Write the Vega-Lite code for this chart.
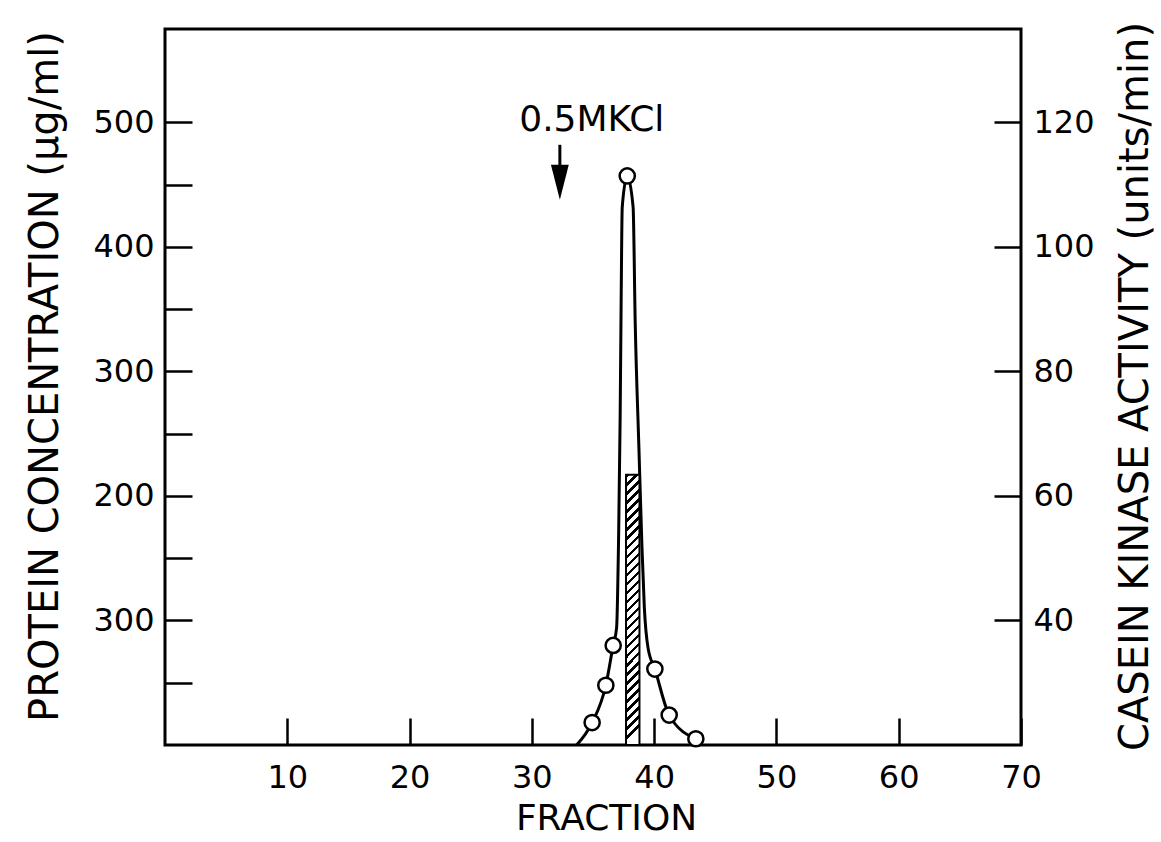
{
  "$schema": "https://vega.github.io/schema/vega-lite/v6.json",
  "width": 856,
  "height": 716,
  "autosize": {"type": "none"},
  "padding": {"left": 165, "top": 29, "right": 140, "bottom": 97},
  "background": "white",
  "config": {
    "view": {"stroke": "black", "strokeWidth": 3},
    "axis": {
      "domain": false, "grid": false,
      "labelFont": "DejaVu Sans", "labelFontSize": 32, "labelColor": "black",
      "labelFlush": false, "labelOverlap": false,
      "tickColor": "black", "tickWidth": 2.5, "tickSize": -27,
      "titleFont": "DejaVu Sans", "titleFontWeight": "normal", "titleColor": "black"
    }
  },
  "datasets": {
    "curve": [
      {"fraction": 33.66, "protein": 0},
      {"fraction": 34.93, "protein": 18},
      {"fraction": 36.05, "protein": 48},
      {"fraction": 36.65, "protein": 80},
      {"fraction": 36.93, "protein": 94},
      {"fraction": 37.10, "protein": 171},
      {"fraction": 37.22, "protein": 263},
      {"fraction": 37.30, "protein": 355},
      {"fraction": 37.39, "protein": 432},
      {"fraction": 37.80, "protein": 457},
      {"fraction": 38.28, "protein": 432},
      {"fraction": 38.45, "protein": 340},
      {"fraction": 38.75, "protein": 240},
      {"fraction": 39.0, "protein": 160},
      {"fraction": 39.2, "protein": 110},
      {"fraction": 39.5, "protein": 78},
      {"fraction": 40.06, "protein": 61},
      {"fraction": 41.23, "protein": 24},
      {"fraction": 43.41, "protein": 5}
    ],
    "points": [
      {"fraction": 34.93, "protein": 18},
      {"fraction": 36.05, "protein": 48},
      {"fraction": 36.65, "protein": 80},
      {"fraction": 37.80, "protein": 457},
      {"fraction": 40.06, "protein": 61},
      {"fraction": 41.23, "protein": 24},
      {"fraction": 43.41, "protein": 5}
    ],
    "activity": [
      {"from": 37.7, "to": 38.8, "activity": 63.4}
    ],
    "label": [
      {"fraction": 34.9, "protein": 502, "text": "0.5MKCl"}
    ],
    "shaft": [
      {"fraction": 32.29, "protein": 482, "bottom": 456}
    ],
    "head": [
      {"fraction": 32.29, "protein": 452}
    ]
  },
  "layer": [
    {
      "layer": [
        {
          "data": {"name": "curve"},
          "mark": {"type": "line", "color": "black", "strokeWidth": 3, "interpolate": "monotone"},
          "encoding": {
            "x": {"field": "fraction", "type": "quantitative", "scale": {"domain": [0, 70], "nice": false, "zero": false},
                  "axis": {"values": [10, 20, 30, 40, 50, 60, 70], "labelPadding": 44, "title": "FRACTION", "titleFontSize": 36,
                           "titleX": 441, "titleY": 73, "titleBaseline": "middle", "titleAlign": "center"}},
            "y": {"field": "protein", "type": "quantitative", "scale": {"domain": [0, 575], "nice": false, "zero": false},
                  "axis": {"orient": "left", "values": [50, 100, 150, 200, 250, 300, 350, 400, 450, 500], "labelPadding": 38,
                           "labelExpr": "datum.value % 100 == 0 ? (datum.value == 100 ? '300' : datum.label) : ''",
                           "title": "PROTEIN CONCENTRATION (µg/ml)", "titleFontSize": 40, "titleAngle": 270,
                           "titleX": -120, "titleY": 347, "titleBaseline": "middle", "titleAlign": "center"}}
          }
        },
        {
          "data": {"name": "shaft"},
          "mark": {"type": "rule", "color": "black", "strokeWidth": 3},
          "encoding": {
            "x": {"field": "fraction", "type": "quantitative"},
            "y": {"field": "protein", "type": "quantitative"},
            "y2": {"field": "bottom"}
          }
        },
        {
          "data": {"name": "head"},
          "mark": {"type": "point", "shape": "M-0.51,-1L0.51,-1L0,1Z", "filled": true, "color": "black", "opacity": 1, "size": 1225},
          "encoding": {
            "x": {"field": "fraction", "type": "quantitative"},
            "y": {"field": "protein", "type": "quantitative"}
          }
        },
        {
          "data": {"name": "label"},
          "mark": {"type": "text", "font": "DejaVu Sans", "fontSize": 36, "color": "black", "align": "center", "baseline": "middle"},
          "encoding": {
            "x": {"field": "fraction", "type": "quantitative"},
            "y": {"field": "protein", "type": "quantitative"},
            "text": {"field": "text"}
          }
        }
      ]
    },
    {
      "layer": [
        {
          "data": {"name": "activity"},
          "mark": {
            "type": "rect", "stroke": "black", "strokeWidth": 2,
            "fill": {
              "gradient": "linear", "x1": 0, "y1": 0, "x2": 0.05, "y2": 1,
              "stops": [
                {"offset": 0, "color": "black"}, {"offset": 0.0133, "color": "black"}, {"offset": 0.0133, "color": "white"}, {"offset": 0.0333, "color": "white"},
                {"offset": 0.0333, "color": "black"}, {"offset": 0.0467, "color": "black"}, {"offset": 0.0467, "color": "white"}, {"offset": 0.0667, "color": "white"},
                {"offset": 0.0667, "color": "black"}, {"offset": 0.08, "color": "black"}, {"offset": 0.08, "color": "white"}, {"offset": 0.1, "color": "white"},
                {"offset": 0.1, "color": "black"}, {"offset": 0.1133, "color": "black"}, {"offset": 0.1133, "color": "white"}, {"offset": 0.1333, "color": "white"},
                {"offset": 0.1333, "color": "black"}, {"offset": 0.1467, "color": "black"}, {"offset": 0.1467, "color": "white"}, {"offset": 0.1667, "color": "white"},
                {"offset": 0.1667, "color": "black"}, {"offset": 0.18, "color": "black"}, {"offset": 0.18, "color": "white"}, {"offset": 0.2, "color": "white"},
                {"offset": 0.2, "color": "black"}, {"offset": 0.2133, "color": "black"}, {"offset": 0.2133, "color": "white"}, {"offset": 0.2333, "color": "white"},
                {"offset": 0.2333, "color": "black"}, {"offset": 0.2467, "color": "black"}, {"offset": 0.2467, "color": "white"}, {"offset": 0.2667, "color": "white"},
                {"offset": 0.2667, "color": "black"}, {"offset": 0.28, "color": "black"}, {"offset": 0.28, "color": "white"}, {"offset": 0.3, "color": "white"},
                {"offset": 0.3, "color": "black"}, {"offset": 0.3133, "color": "black"}, {"offset": 0.3133, "color": "white"}, {"offset": 0.3333, "color": "white"},
                {"offset": 0.3333, "color": "black"}, {"offset": 0.3467, "color": "black"}, {"offset": 0.3467, "color": "white"}, {"offset": 0.3667, "color": "white"},
                {"offset": 0.3667, "color": "black"}, {"offset": 0.38, "color": "black"}, {"offset": 0.38, "color": "white"}, {"offset": 0.4, "color": "white"},
                {"offset": 0.4, "color": "black"}, {"offset": 0.4133, "color": "black"}, {"offset": 0.4133, "color": "white"}, {"offset": 0.4333, "color": "white"},
                {"offset": 0.4333, "color": "black"}, {"offset": 0.4467, "color": "black"}, {"offset": 0.4467, "color": "white"}, {"offset": 0.4667, "color": "white"},
                {"offset": 0.4667, "color": "black"}, {"offset": 0.48, "color": "black"}, {"offset": 0.48, "color": "white"}, {"offset": 0.5, "color": "white"},
                {"offset": 0.5, "color": "black"}, {"offset": 0.5133, "color": "black"}, {"offset": 0.5133, "color": "white"}, {"offset": 0.5333, "color": "white"},
                {"offset": 0.5333, "color": "black"}, {"offset": 0.5467, "color": "black"}, {"offset": 0.5467, "color": "white"}, {"offset": 0.5667, "color": "white"},
                {"offset": 0.5667, "color": "black"}, {"offset": 0.58, "color": "black"}, {"offset": 0.58, "color": "white"}, {"offset": 0.6, "color": "white"},
                {"offset": 0.6, "color": "black"}, {"offset": 0.6133, "color": "black"}, {"offset": 0.6133, "color": "white"}, {"offset": 0.6333, "color": "white"},
                {"offset": 0.6333, "color": "black"}, {"offset": 0.6467, "color": "black"}, {"offset": 0.6467, "color": "white"}, {"offset": 0.6667, "color": "white"},
                {"offset": 0.6667, "color": "black"}, {"offset": 0.68, "color": "black"}, {"offset": 0.68, "color": "white"}, {"offset": 0.7, "color": "white"},
                {"offset": 0.7, "color": "black"}, {"offset": 0.7133, "color": "black"}, {"offset": 0.7133, "color": "white"}, {"offset": 0.7333, "color": "white"},
                {"offset": 0.7333, "color": "black"}, {"offset": 0.7467, "color": "black"}, {"offset": 0.7467, "color": "white"}, {"offset": 0.7667, "color": "white"},
                {"offset": 0.7667, "color": "black"}, {"offset": 0.78, "color": "black"}, {"offset": 0.78, "color": "white"}, {"offset": 0.8, "color": "white"},
                {"offset": 0.8, "color": "black"}, {"offset": 0.8133, "color": "black"}, {"offset": 0.8133, "color": "white"}, {"offset": 0.8333, "color": "white"},
                {"offset": 0.8333, "color": "black"}, {"offset": 0.8467, "color": "black"}, {"offset": 0.8467, "color": "white"}, {"offset": 0.8667, "color": "white"},
                {"offset": 0.8667, "color": "black"}, {"offset": 0.88, "color": "black"}, {"offset": 0.88, "color": "white"}, {"offset": 0.9, "color": "white"},
                {"offset": 0.9, "color": "black"}, {"offset": 0.9133, "color": "black"}, {"offset": 0.9133, "color": "white"}, {"offset": 0.9333, "color": "white"},
                {"offset": 0.9333, "color": "black"}, {"offset": 0.9467, "color": "black"}, {"offset": 0.9467, "color": "white"}, {"offset": 0.9667, "color": "white"},
                {"offset": 0.9667, "color": "black"}, {"offset": 0.98, "color": "black"}, {"offset": 0.98, "color": "white"}, {"offset": 1, "color": "white"}
              ]
            }
          },
          "encoding": {
            "x": {"field": "from", "type": "quantitative"},
            "x2": {"field": "to"},
            "y": {"field": "activity", "type": "quantitative", "scale": {"domain": [20, 135], "nice": false, "zero": false},
                  "axis": {"orient": "right", "values": [40, 60, 80, 100, 120], "labelPadding": 39,
                           "title": "CASEIN KINASE ACTIVITY (units/min)", "titleFontSize": 40, "titleAngle": 270,
                           "titleX": 114, "titleY": 357, "titleBaseline": "middle", "titleAlign": "center"}},
            "y2": {"datum": 20}
          }
        }
      ]
    },
    {
      "layer": [
        {
          "data": {"name": "curve"},
          "mark": {"type": "line", "color": "black", "strokeWidth": 3, "interpolate": "monotone", "opacity": 0},
          "encoding": {
            "x": {"field": "fraction", "type": "quantitative"},
            "y": {"field": "protein", "type": "quantitative", "scale": {"domain": [0, 575], "nice": false, "zero": false}, "axis": null}
          }
        },
        {
          "data": {"name": "points"},
          "mark": {"type": "point", "shape": "circle", "filled": false, "fill": "white", "fillOpacity": 1, "stroke": "black", "strokeWidth": 2.5, "size": 230, "opacity": 1},
          "encoding": {
            "x": {"field": "fraction", "type": "quantitative"},
            "y": {"field": "protein", "type": "quantitative"}
          }
        }
      ]
    }
  ],
  "resolve": {"scale": {"y": "independent"}}
}
